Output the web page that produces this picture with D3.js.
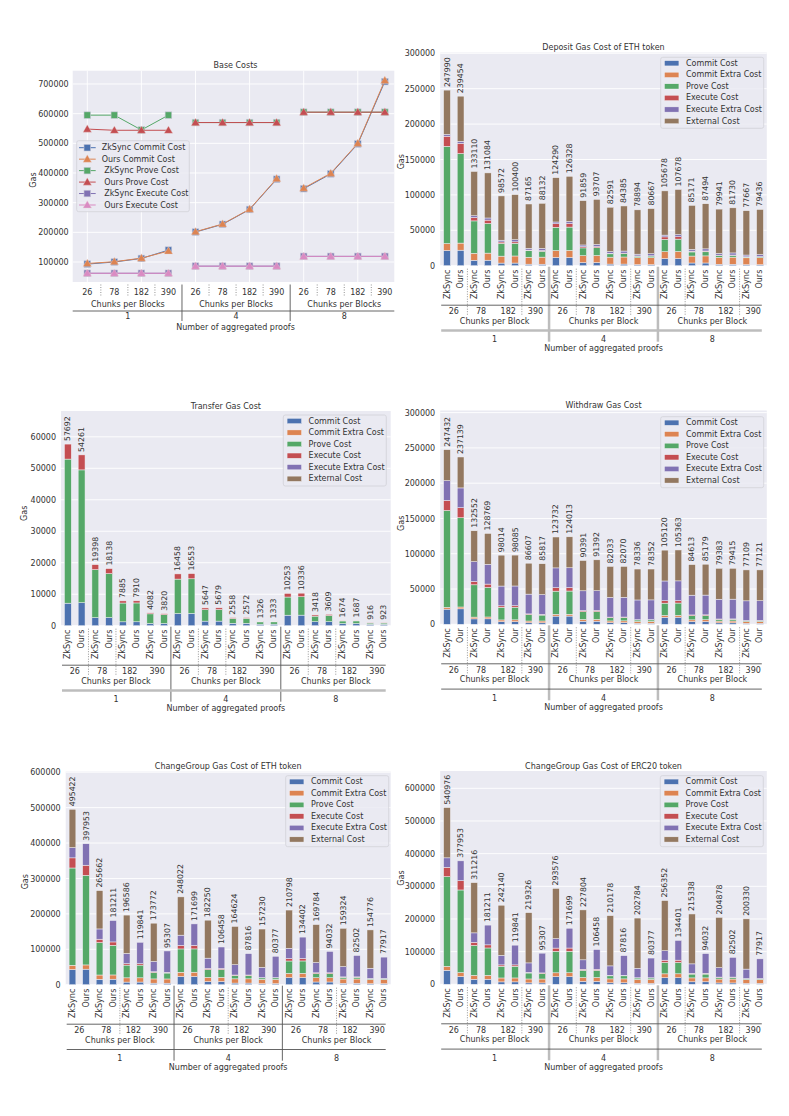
<!DOCTYPE html>
<html><head><meta charset="utf-8">
<script src="https://cdn.jsdelivr.net/npm/d3@7"></script>
<style>body{margin:0;background:#fff;} text{font-family:"DejaVu Sans",sans-serif;}</style>
</head><body>
<svg id="chart" width="789" height="1116"></svg>
<script>
// ---------------- DATA ----------------
const aggregatedProofs = ["1", "4", "8"];
const chunksPerBlock = ["26", "78", "182", "390"];
const componentNames = ["Commit Cost","Commit Extra Cost","Prove Cost","Execute Cost","Execute Extra Cost","External Cost"];

// Base costs (12 points: agg 1,4,8 x chunks 26,78,182,390)
const baseZkCommit    = [93000,100000,112000,140000, 201000,227000,277000,379000, 347000,397000,498000,708000];
const baseOursCommit  = [95000,101000,113000,137000, 202000,228000,278000,381000, 349000,399000,500000,712000];
const baseZkProve     = [595000,595000,545000,595000, 570000,570000,570000,570000, 605000,605000,605000,605000];
const baseOursProve   = [548000,544000,544000,544000, 570000,570000,570000,570000, 605000,605000,605000,605000];
const baseZkExecute   = [62000,62000,62000,62000, 86000,86000,86000,86000, 119000,119000,119000,119000];
const baseOursExecute = [62000,62000,62000,62000, 86000,86000,86000,86000, 119000,119000,119000,119000];

// Bars order per group: ZkSync26, Ours26, ZkSync78, Ours78, ZkSync182, Ours182, ZkSync390, Ours390
// Deposit
const depCommit      = [21462,21923,7692,7769,3692,3725,2154,2108, 11596,11654,4365,4385,2283,2291,1458,1465, 10010,10067,3817,3837,2052,2060,1362,1369];
const depCommitExtra = [9800,10000,9800,10000,9800,10000,9800,10000, 9800,10000,9800,10000,9800,10000,9800,10000, 9800,10000,9800,10000,9800,10000,9800,10000];
const depProve       = [137308,126462,45769,41846,17967,17934,9154,8369, 32885,32885,10962,10962,4698,4698,2192,2192, 17452,17452,5817,5817,2493,2493,1163,1163];
const depExecute     = [14308,14308,4769,4769,2044,2044,954,954, 4962,4962,1654,1654,709,709,331,331, 3433,3433,1144,1144,490,490,229,229];
const depExecExtra   = [2500,3000,2500,3000,2500,3000,2500,3000, 2500,3000,2500,3000,2500,3000,2500,3000, 2500,3000,2500,3000,2500,3000,2500,3000];
const depExternal    = [62612,63761,62580,63700,62569,63697,62603,63701, 62547,63827,62578,63706,62601,63687,62613,63679, 62483,63726,62093,63696,62606,63687,62613,63675];
const depTotal       = [247990,239454,133110,131084,98572,100400,87165,88132, 124290,126328,91859,93707,82591,84385,78894,80667, 105678,107678,85171,87494,79941,81730,77667,79436];

// Transfer
const trCommit      = [7154,7308,2564,2590,1231,1242,718,703, 3865,3885,1455,1462,761,764,486,488, 3337,3356,1272,1279,684,687,454,456];
const trCommitExtra = [0,0,0,0,0,0,0,0, 0,0,0,0,0,0,0,0, 0,0,0,0,0,0,0,0];
const trProve       = [45769,42184,15244,13958,5973,5987,3046,2799, 10939,11014,3641,3666,1561,1572,730,735, 5772,5836,1765,1949,827,837,386,391];
const trExecute     = [4769,4769,1590,1590,681,681,318,318, 1654,1654,551,551,236,236,110,110, 1144,1144,381,381,163,163,76,76];
const trExecExtra   = [0,0,0,0,0,0,0,0, 0,0,0,0,0,0,0,0, 0,0,0,0,0,0,0,0];
const trExternal    = [0,0,0,0,0,0,0,0, 0,0,0,0,0,0,0,0, 0,0,0,0,0,0,0,0];
const trTotal       = [57692,54261,19398,18138,7885,7910,4082,3820, 16458,16553,5647,5679,2558,2572,1326,1333, 10253,10336,3418,3609,1674,1687,916,923];

// Withdraw
const wdCommit      = [21462,21923,7692,7769,3692,3725,2154,2108, 11596,11654,4365,4385,2283,2291,1458,1465, 10010,10067,3817,3837,2052,2060,1362,1369];
const wdCommitExtra = [2500,2600,2500,2600,2500,2600,2500,2600, 2500,2600,2500,2600,2500,2600,2500,2600, 2500,2600,2500,2600,2500,2600,2500,2600];
const wdProve       = [137308,126462,45769,41846,17967,17934,9154,8369, 32885,32885,10962,10962,4698,4698,2192,2192, 17452,17452,5817,5817,2493,2493,1163,1163];
const wdExecute     = [14308,14308,4769,4769,2044,2044,954,954, 4962,4962,1654,1654,709,709,331,331, 3433,3433,1144,1144,490,490,229,229];
const wdExecExtra   = [28000,28000,28000,28000,28000,28000,28000,28000, 28000,28000,28000,28000,28000,28000,28000,28000, 28000,28000,28000,28000,28000,28000,28000,28000];
const wdExternal    = [43854,43846,43822,43785,43811,43782,43845,43786, 43789,43912,42910,43791,43843,43772,43855,43764, 43725,43811,43335,43781,43848,43772,43855,43760];
const wdTotal       = [247432,237139,132552,128769,98014,98085,86607,85817, 123732,124013,90391,91392,82033,82070,78336,78352, 105120,105363,84613,85179,79383,79415,77109,77121];

// ChangeGroup ETH
const cgeCommit      = [42923,43846,15385,15538,7385,7451,4308,4215, 23192,23308,8731,8769,4566,4582,2915,2931, 20019,20135,7635,7673,4104,4121,2723,2738];
const cgeCommitExtra = [12000,12000,12000,12000,12000,12000,12000,12000, 12000,12000,12000,12000,12000,12000,12000,12000, 12000,12000,12000,12000,12000,12000,12000,12000];
const cgeProve       = [274615,252923,91538,83692,35934,35868,18308,16738, 65769,65769,21923,21923,9396,9396,4385,4385, 34904,34904,11635,11635,4986,4986,2327,2327];
const cgeExecute     = [28615,28615,9538,9538,4088,4088,1908,1908, 9923,9923,3308,3308,1418,1418,662,662, 6865,6865,2288,2288,981,981,458,458];
const cgeExecExtra   = [29000,60569,29000,60443,29000,60434,29000,60446, 29000,60699,29000,60458,29000,60420,29000,60399, 29000,60498,29000,60436,29000,60414,29000,60394];
const cgeExternal    = [108269,0,108201,0,108179,0,108248,0, 108138,0,107288,0,108244,0,108268,0, 108010,0,107226,0,108253,0,108268,0];
const cgeTotal       = [495422,397953,265662,181211,196586,119841,173772,95307, 248022,171699,182250,106458,164624,87816,157230,80377, 210798,134402,169784,94032,159324,82502,154776,77917];

// ChangeGroup ERC20
const cgtCommit      = [42923,23846,15385,15538,7385,7451,4308,4215, 23192,23308,8731,8769,4566,4582,2915,2931, 20019,20135,7635,7673,4104,4121,2723,2738];
const cgtCommitExtra = [12000,12000,12000,12000,12000,12000,12000,12000, 12000,12000,12000,12000,12000,12000,12000,12000, 12000,12000,12000,12000,12000,12000,12000,12000];
const cgtProve       = [274615,252923,91538,83692,35934,35868,18308,16738, 65769,65769,21923,21923,9396,9396,4385,4385, 34904,34904,11635,11635,4986,4986,2327,2327];
const cgtExecute     = [28615,28615,9538,9538,4088,4088,1908,1908, 9923,9923,3308,3308,1418,1418,662,662, 6865,6865,2288,2288,981,981,458,458];
const cgtExecExtra   = [29000,60569,29000,60443,29000,60434,29000,60446, 29000,60699,29000,60458,29000,60420,29000,60399, 29000,60497,29000,60436,29000,60414,29000,60394];
const cgtExternal    = [153823,0,153755,0,153733,0,153802,0, 153692,0,152842,0,153798,0,153822,0, 153564,0,152780,0,153807,0,153822,0];
const cgtTotal       = [540976,377953,311216,181211,242140,119841,219326,95307, 293576,171699,227804,106458,210178,87816,202784,80377, 256352,134401,215338,94032,204878,82502,200330,77917];

// ---------------- DRAWING ----------------
const svg = d3.select("#chart");
const TXT = "#333333";
const BG = "#EAEAF2";
const segColors = ["#4C72B0","#DD8452","#55A868","#C44E52","#8172B3","#937860"];
const keys = ["commit","commitExtra","prove","execute","execExtra","external"];

function txt(g, x, y, s, size, anchor) {
  return g.append("text").attr("x", x).attr("y", y).text(s)
    .attr("font-size", size || 8).attr("fill", TXT)
    .attr("text-anchor", anchor || "middle")
    .attr("dominant-baseline", "central")
    .style("white-space", "pre");
}

function yAxis(g, y, ticks, L, pad) {
  const ax = g.append("g").attr("transform", `translate(${L},0)`)
    .call(d3.axisLeft(y).tickValues(ticks).tickSize(0).tickPadding(pad).tickFormat(d3.format("d")));
  ax.select(".domain").remove();
  ax.selectAll("text").attr("font-size", 8).attr("fill", TXT).attr("font-family", "DejaVu Sans, sans-serif");
}

function legendBox(g, x0, y0, w, h, rows) {
  g.append("rect").attr("x", x0).attr("y", y0).attr("width", w).attr("height", h)
    .attr("rx", 2).attr("fill", BG).attr("fill-opacity", 0.85).attr("stroke", "#d2d2d8").attr("stroke-width", 0.8);
  rows(g);
}

function barPanel(cfg) {
  const g = svg.append("g");
  const segs = cfg.segs;
  const n = cfg.totals.length;
  const rowsData = d3.range(n).map(i => { const o = {}; keys.forEach((k, j) => o[k] = segs[j][i]); return o; });
  const x = d3.scaleBand().domain(d3.range(n)).range([cfg.L, cfg.R]).paddingInner(0.5).paddingOuter(0.25);
  const y = d3.scaleLinear().domain([0, cfg.yMax]).range([cfg.B, cfg.T]);
  const step = x.step(), bw = x.bandwidth();

  g.append("rect").attr("x", cfg.L).attr("y", cfg.T).attr("width", cfg.R - cfg.L).attr("height", cfg.B - cfg.T).attr("fill", BG);
  cfg.yTicks.forEach(t => g.append("line").attr("x1", cfg.L).attr("x2", cfg.R).attr("y1", y(t)).attr("y2", y(t))
    .attr("stroke", "#fff").attr("stroke-width", 0.9));
  yAxis(g, y, cfg.yTicks, cfg.L, cfg.pad || 5);

  const stacked = d3.stack().keys(keys)(rowsData);
  stacked.forEach((layer, j) => {
    g.append("g").selectAll("rect").data(layer).join("rect")
      .attr("x", (d, i) => x(i)).attr("width", bw)
      .attr("y", d => y(d[1])).attr("height", d => Math.max(0, y(d[0]) - y(d[1])))
      .attr("fill", segColors[j]).attr("stroke", "#f2f2f6").attr("stroke-width", 0.5);
  });

  // value labels
  cfg.totals.forEach((v, i) => {
    const cx = x(i) + bw / 2, ty = y(v) - 3;
    g.append("text").attr("transform", `translate(${cx},${ty}) rotate(-90)`).text(v)
      .attr("font-size", 7.8).attr("fill", TXT).attr("text-anchor", "start").attr("dominant-baseline", "central");
  });
  // system tick labels
  d3.range(n).forEach(i => {
    const cx = x(i) + bw / 2;
    g.append("text").attr("transform", `translate(${cx},${cfg.B + 4}) rotate(-90)`).text(cfg.sys[i % 2])
      .attr("font-size", 8).attr("fill", TXT).attr("text-anchor", "end").attr("dominant-baseline", "central");
  });

  const B = cfg.B;
  // dotted separators
  cfg.dotted.forEach(k => {
    const sx = cfg.L + k * step;
    g.append("line").attr("x1", sx).attr("x2", sx).attr("y1", B + 3).attr("y2", B + 50)
      .attr("stroke", "#666").attr("stroke-width", 0.7).attr("stroke-dasharray", "1,1.5");
  });
  // group separators
  [8, 16].forEach(k => {
    const sx = cfg.L + k * step;
    g.append("line").attr("x1", sx).attr("x2", sx).attr("y1", B + 1).attr("y2", B + 76)
      .attr("stroke", cfg.sepThick ? "#bdbdbd" : "#555").attr("stroke-width", cfg.sepThick ? 2.5 : 0.9);
  });
  // horizontal lines
  g.append("line").attr("x1", cfg.L + 1).attr("x2", cfg.R - 5).attr("y1", B + 39.5).attr("y2", B + 39.5)
    .attr("stroke", "#555").attr("stroke-width", 0.9);
  g.append("line").attr("x1", cfg.L + 1).attr("x2", cfg.R - 5).attr("y1", B + 64.8).attr("y2", B + 64.8)
    .attr("stroke", cfg.line2Thick ? "#bdbdbd" : "#555").attr("stroke-width", cfg.line2Thick ? 2.5 : 0.9);

  d3.range(12).forEach(p => txt(g, cfg.L + (2 * p + 1) * step, B + 46, chunksPerBlock[p % 4]));
  d3.range(3).forEach(q => {
    txt(g, cfg.L + (8 * q + 4) * step, B + 55.5, "Chunks per Block");
    txt(g, cfg.L + (8 * q + 4) * step, B + 74, aggregatedProofs[q]);
  });
  txt(g, (cfg.L + cfg.R) / 2, B + 83, "Number of aggregated proofs");

  txt(g, (cfg.L + cfg.R) / 2, cfg.T - 5, cfg.title);
  g.append("text").attr("transform", `translate(${cfg.gasX},${cfg.gasY}) rotate(-90)`).text("Gas")
    .attr("font-size", 8).attr("fill", TXT).attr("text-anchor", "middle").attr("dominant-baseline", "central");

  legendBox(g, cfg.legX, cfg.legY, 103, 71, lg => {
    componentNames.forEach((nm, j) => {
      const ry = cfg.legY + 6 + j * 11.55;
      lg.append("rect").attr("x", cfg.legX + 3.8).attr("y", ry - 2.6).attr("width", 14.4).attr("height", 5.2)
        .attr("fill", segColors[j]).attr("stroke", "#f2f2f6").attr("stroke-width", 0.4);
      txt(lg, cfg.legX + 25.3, ry, nm, 8, "start");
    });
  });
}

function basePanel() {
  const g = svg.append("g");
  const L = 72.7, R = 394.3, T = 70.7, B = 282;
  const x = d3.scaleLinear().domain([-0.54, 11.35]).range([L, R]);
  const y = d3.scaleLinear().domain([32600, 744800]).range([B, T]);
  const yTicks = [100000, 200000, 300000, 400000, 500000, 600000, 700000];
  g.append("rect").attr("x", L).attr("y", T).attr("width", R - L).attr("height", B - T).attr("fill", BG);
  yTicks.forEach(t => g.append("line").attr("x1", L).attr("x2", R).attr("y1", y(t)).attr("y2", y(t)).attr("stroke", "#fff").attr("stroke-width", 0.9));
  [0, 2, 4, 6, 8, 10].forEach(t => g.append("line").attr("x1", x(t)).attr("x2", x(t)).attr("y1", T).attr("y2", B).attr("stroke", "#fff").attr("stroke-width", 0.9));
  yAxis(g, y, yTicks, L, 4);

  const series = [
    { name: "ZkSync Commit Cost", values: baseZkCommit, color: "#4C72B0", marker: "square" },
    { name: "Ours Commit Cost", values: baseOursCommit, color: "#DD8452", marker: "triangle" },
    { name: " ZkSync Prove Cost", values: baseZkProve, color: "#55A868", marker: "square" },
    { name: " Ours Prove Cost", values: baseOursProve, color: "#C44E52", marker: "triangle" },
    { name: " ZkSync Execute Cost", values: baseZkExecute, color: "#8172B3", marker: "square" },
    { name: " Ours Execute Cost", values: baseOursExecute, color: "#DA8BC3", marker: "triangle" }
  ];
  const line = d3.line().x(d => x(d.i)).y(d => y(d.v));
  const tri = d3.symbol().type(d3.symbolTriangle).size(32);
  function drawMarker(sel, s, cx, cy) {
    if (s.marker === "square") {
      sel.append("rect").attr("x", cx - 3.3).attr("y", cy - 3.3).attr("width", 6.6).attr("height", 6.6)
        .attr("fill", s.color).attr("stroke", "#c8c8d8").attr("stroke-width", 0.6);
    } else {
      sel.append("path").attr("d", tri).attr("transform", `translate(${cx},${cy + 0.6})`)
        .attr("fill", s.color).attr("stroke", "#e8d8d8").attr("stroke-width", 0.4);
    }
  }
  series.forEach(s => {
    [0, 1, 2].forEach(gi => {
      const pts = d3.range(4).map(k => ({ i: gi * 4 + k, v: s.values[gi * 4 + k] }));
      g.append("path").attr("d", line(pts)).attr("fill", "none").attr("stroke", s.color).attr("stroke-width", 1);
      pts.forEach(p => drawMarker(g, s, x(p.i), y(p.v)));
    });
  });

  // legend
  legendBox(g, 76.7, 140.7, 112.6, 71, lg => {
    series.forEach((s, j) => {
      const ry = 147.7 + j * 11.46;
      lg.append("line").attr("x1", 79).attr("x2", 95.7).attr("y1", ry).attr("y2", ry).attr("stroke", s.color).attr("stroke-width", 1);
      drawMarker(lg, s, 87.3, ry);
      txt(lg, 101.7, ry, s.name, 8, "start");
    });
  });

  // x axis hierarchy
  d3.range(12).forEach(i => txt(g, x(i), 292.6, chunksPerBlock[i % 4]));
  [0, 1, 2, 4, 5, 6, 8, 9, 10].forEach(i => g.append("line").attr("x1", x(i + 0.5)).attr("x2", x(i + 0.5))
    .attr("y1", 284.5).attr("y2", 297).attr("stroke", "#666").attr("stroke-width", 0.7).attr("stroke-dasharray", "1,1.5"));
  [3.5, 7.5].forEach(i => g.append("line").attr("x1", x(i)).attr("x2", x(i)).attr("y1", 284.5).attr("y2", 321)
    .attr("stroke", "#555").attr("stroke-width", 0.9));
  g.append("line").attr("x1", L).attr("x2", R).attr("y1", 311).attr("y2", 311).attr("stroke", "#555").attr("stroke-width", 0.9);
  [1.5, 5.5, 9.5].forEach((c, q) => {
    txt(g, x(c), 304, "Chunks per Blocks");
    txt(g, x(c), 316.8, aggregatedProofs[q]);
  });
  txt(g, 235.5, 327.7, "Number of aggregated proofs");
  txt(g, 235.5, 65.6, "Base Costs");
  g.append("text").attr("transform", "translate(33.3,180) rotate(-90)").text("Gas")
    .attr("font-size", 8).attr("fill", TXT).attr("text-anchor", "middle").attr("dominant-baseline", "central");
}

basePanel();

barPanel({ title: "Deposit Gas Cost of ETH token", L: 440.2, R: 766.8, T: 52.5, B: 265.7, yMax: 301100,
  yTicks: [0, 50000, 100000, 150000, 200000, 250000, 300000],
  segs: [depCommit, depCommitExtra, depProve, depExecute, depExecExtra, depExternal], totals: depTotal,
  sys: ["ZkSync", "Ours"], dotted: [2, 6, 10, 14, 18, 22], line2Thick: true, sepThick: true,
  gasX: 401, gasY: 161.7, legX: 660.7, legY: 57.3 });

barPanel({ title: "Transfer Gas Cost", L: 61, R: 390.7, T: 411, B: 625.7, yMax: 68200,
  yTicks: [0, 10000, 20000, 30000, 40000, 50000, 60000],
  segs: [trCommit, trCommitExtra, trProve, trExecute, trExecExtra, trExternal], totals: trTotal,
  sys: ["ZkSync", "Ours"], dotted: [2, 4, 10, 12, 18, 20], line2Thick: true, sepThick: false,
  gasX: 24, gasY: 513.3, legX: 283.3, legY: 415 });

barPanel({ title: "Withdraw Gas Cost", L: 440.2, R: 766.8, T: 410.5, B: 624.3, yMax: 303000,
  yTicks: [0, 50000, 100000, 150000, 200000, 250000, 300000],
  segs: [wdCommit, wdCommitExtra, wdProve, wdExecute, wdExecExtra, wdExternal], totals: wdTotal,
  sys: ["ZkSync", "Our"], dotted: [2, 6, 10, 14, 18, 22], line2Thick: false, sepThick: true,
  gasX: 401, gasY: 523.3, legX: 660.7, legY: 416.7 });

barPanel({ title: "ChangeGroup Gas Cost of ETH token", L: 65.7, R: 390.7, T: 771.5, B: 984.7, yMax: 602000,
  yTicks: [0, 100000, 200000, 300000, 400000, 500000, 600000],
  segs: [cgeCommit, cgeCommitExtra, cgeProve, cgeExecute, cgeExecExtra, cgeExternal], totals: cgeTotal,
  sys: ["ZkSync", "Ours"], dotted: [4, 12, 20], line2Thick: false, sepThick: false,
  gasX: 25, gasY: 881.7, legX: 285.7, legY: 775.7 });

barPanel({ title: "ChangeGroup Gas Cost of ERC20 token", L: 440.2, R: 766.8, T: 771, B: 984.3, yMax: 653000,
  yTicks: [0, 100000, 200000, 300000, 400000, 500000, 600000],
  segs: [cgtCommit, cgtCommitExtra, cgtProve, cgtExecute, cgtExecExtra, cgtExternal], totals: cgtTotal,
  sys: ["ZkSync", "Ours"], dotted: [2, 6, 10, 14, 18, 22], line2Thick: false, sepThick: true,
  gasX: 401, gasY: 878, legX: 660.3, legY: 775.7 });
</script></body></html>
